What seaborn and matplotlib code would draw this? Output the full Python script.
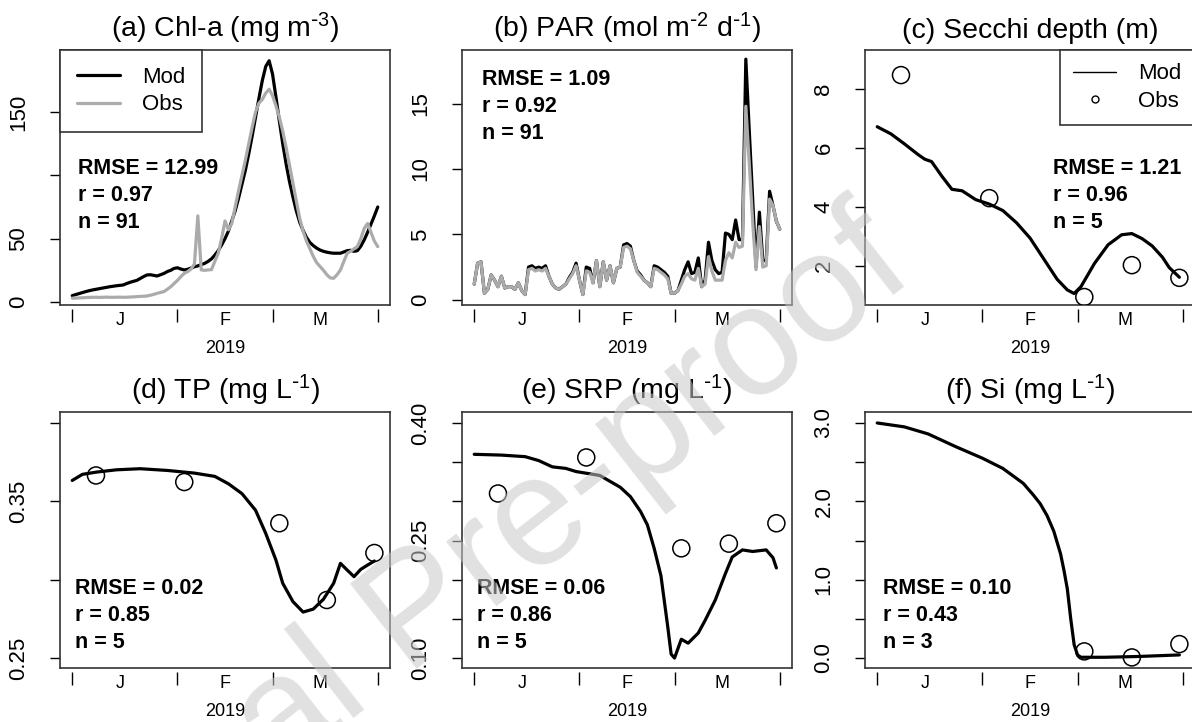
import numpy as np
import pandas as pd
import seaborn as sns
import matplotlib.pyplot as plt
import matplotlib.dates as mdates
from matplotlib.lines import Line2D

# day offsets from 1 Jan 2019
start = pd.Timestamp('2019-01-01')
days = np.arange(91)

chl_mod = [5.0, 5.8, 6.6, 7.4, 8.2, 8.9, 9.5, 10.0, 10.5, 11.0,
           11.5, 12.0, 12.4, 12.8, 13.1, 13.4, 14.5, 15.5, 16.3, 17.0,
           18.5, 20.0, 21.3, 21.5, 21.0, 20.5, 21.5, 22.5, 24.0, 25.0,
           26.5, 27.0, 26.0, 25.3, 25.8, 26.8, 27.8, 28.5, 29.5, 30.5,
           32.0, 34.0, 37.0, 40.5, 45.0, 50.0, 56.0, 64.0, 72.0, 82.0,
           93.0, 104.0, 117.0, 131.0, 146.0, 161.0, 175.0, 186.0, 190.5, 180.0,
           162.0, 143.0, 125.0, 109.0, 95.0, 83.0, 72.0, 63.0, 56.5, 51.0,
           47.0, 44.5, 42.5, 41.0, 40.0, 39.3, 38.8, 38.5, 38.5, 38.5,
           39.5, 40.5, 40.8, 40.0, 40.5, 44.0, 49.0, 55.0, 61.5, 68.0,
           75.0]
chl_obs = [3.0, 3.0, 3.2, 3.3, 3.5, 3.6, 3.7, 3.7, 3.6, 3.7,
           3.8, 3.7, 3.7, 3.7, 3.8, 3.7, 3.7, 3.9, 4.0, 4.2,
           4.4, 4.5, 4.7, 5.3, 6.0, 6.8, 7.5, 8.2, 10.0, 12.0,
           14.5, 17.0, 20.0, 22.6, 24.0, 26.0, 30.0, 68.0, 25.3, 25.0,
           25.3, 25.5, 32.0, 38.5, 50.0, 64.0, 57.0, 62.0, 75.0, 88.0,
           100.0, 112.0, 125.0, 138.0, 150.0, 157.0, 160.0, 165.0, 168.0, 163.0,
           155.0, 146.0, 135.0, 122.0, 108.0, 94.0, 80.0, 66.0, 56.0, 48.0,
           42.0, 36.0, 31.0, 28.0, 25.0, 21.5, 19.0, 18.7, 21.5, 25.3,
           32.0, 38.5, 40.0, 42.0, 43.7, 50.0, 58.0, 62.0, 55.0, 48.0,
           43.7]

par_mod = [1.2, 2.8, 2.9, 0.5, 0.8, 1.9, 1.5, 1.0, 1.8, 0.9,
           1.0, 1.0, 0.8, 1.3, 0.7, 0.4, 2.5, 2.6, 2.4, 2.5,
           2.4, 2.6, 1.8, 1.2, 0.9, 0.8, 1.0, 1.2, 1.7, 2.1,
           2.8, 1.5, 0.4, 2.5, 2.4, 1.3, 3.0, 1.0, 2.9, 1.5,
           2.6, 1.3, 2.4, 2.5, 4.2, 4.3, 4.1, 3.0, 2.2, 1.9,
           1.5, 1.3, 1.0, 2.6, 2.5, 2.3, 2.1, 1.8, 0.5, 0.5,
           0.7, 1.5, 2.3, 2.9, 2.0, 2.1, 3.2, 1.0, 1.5, 4.4,
           3.0, 2.3, 2.0, 2.1, 5.1, 5.0, 4.6, 6.1, 4.6, 4.6,
           18.4, 13.0, 7.8, 2.5, 6.7, 3.0, 3.0, 8.3, 7.2, 6.0,
           5.4]
par_obs = [1.2, 2.8, 2.9, 0.5, 0.8, 1.9, 1.5, 1.0, 1.8, 0.9,
           1.0, 1.0, 0.8, 1.3, 0.7, 0.4, 2.3, 2.4, 2.2, 2.3,
           2.2, 2.4, 1.8, 1.2, 0.9, 0.8, 1.0, 1.2, 1.6, 2.0,
           2.6, 1.5, 0.4, 2.2, 2.1, 1.3, 3.0, 1.0, 2.9, 1.5,
           2.6, 1.3, 2.4, 2.5, 4.0, 4.1, 3.9, 3.0, 2.1, 1.8,
           1.5, 1.3, 1.0, 2.4, 2.3, 2.1, 1.9, 1.6, 0.5, 0.5,
           0.7, 1.2, 1.8, 2.0, 1.6, 1.5, 2.4, 1.0, 1.2, 3.3,
           2.2, 1.5, 1.5, 1.5, 3.0, 3.6, 3.2, 4.4, 4.0, 4.1,
           14.8, 10.5, 6.0, 2.3, 5.6, 2.5, 2.6, 7.7, 7.2, 6.0,
           5.4]

secchi_days = [0, 4, 8, 12, 14, 16, 19, 22, 25, 29, 33, 37, 41, 45, 49, 53, 56, 58,
               60, 64, 68, 72, 75, 78, 81, 84, 86, 89]
secchi_mod = [6.72, 6.48, 6.14, 5.78, 5.62, 5.54, 5.05, 4.6, 4.55, 4.25, 4.1, 3.88, 3.47,
              2.95, 2.25, 1.55, 1.19, 1.07, 1.3, 2.09, 2.72, 3.06, 3.1, 2.93, 2.68, 2.3,
              1.95, 1.62]

tp_days = [0, 3, 7, 13, 20, 28, 36, 42, 46, 50, 54, 57, 60, 62, 65, 68, 71, 74, 77,
           79, 81, 83, 85, 87, 89]
tp_mod = [0.3633, 0.3672, 0.3686, 0.3701, 0.3708, 0.3697, 0.368, 0.3659, 0.3612, 0.3549,
          0.3443, 0.3295, 0.3125, 0.2977, 0.286, 0.2793, 0.2812, 0.2875, 0.2977, 0.3104,
          0.3061, 0.3019, 0.3066, 0.3093, 0.3119]

srp_days = [0, 8, 15, 19, 23, 27, 30, 37, 43, 46, 49, 51, 53, 55, 57, 58, 59, 61, 63,
            66, 68, 71, 74, 76, 79, 82, 86, 88, 89]
srp_mod = [0.360, 0.359, 0.357, 0.352, 0.344, 0.342, 0.338, 0.333, 0.318, 0.306, 0.287,
           0.270, 0.240, 0.205, 0.140, 0.105, 0.100, 0.124, 0.119, 0.132, 0.148, 0.174,
           0.208, 0.229, 0.238, 0.236, 0.238, 0.228, 0.215]

si_days = [0, 8, 15, 23, 31, 37, 43, 46, 48, 50, 52, 54, 55, 56, 57, 58, 59, 60, 63,
           67, 72, 77, 83, 89]
si_mod = [3.0, 2.95, 2.86, 2.70, 2.55, 2.42, 2.23, 2.08, 1.97, 1.82, 1.62, 1.33, 1.12,
          0.88, 0.5, 0.17, 0.04, 0.01, 0.01, 0.01, 0.015, 0.02, 0.03, 0.04]

obs_days = [7, 33, 61, 75, 89]
secchi_obs = [8.47, 4.3, 0.95, 2.03, 1.6]
tp_obs = [0.3665, 0.3623, 0.336, 0.287, 0.317]
srp_obs = [0.310, 0.356, 0.240, 0.246, 0.272]
si_obs_days = [61, 75, 89]
si_obs = [0.085, 0.008, 0.178]

titles = [r'(a) Chl-a (mg m$^{\text{-}3}$)', r'(b) PAR (mol m$^{\text{-}2}$ d$^{\text{-}1}$)',
          '(c) Secchi depth (m)', r'(d) TP (mg L$^{\text{-}1}$)',
          r'(e) SRP (mg L$^{\text{-}1}$)', r'(f) Si (mg L$^{\text{-}1}$)']
stats = [('12.99', '0.97', '91'), ('1.09', '0.92', '91'), ('1.21', '0.96', '5'),
         ('0.02', '0.85', '5'), ('0.06', '0.86', '5'), ('0.10', '0.43', '3')]
yticks = [[0, 50, 100, 150], [0, 5, 10, 15], [2, 4, 6, 8],
          [0.25, 0.30, 0.35, 0.40], [0.10, 0.15, 0.20, 0.25, 0.30, 0.35, 0.40],
          [0.0, 0.5, 1.0, 1.5, 2.0, 2.5, 3.0]]
ylabels = [['0', '50', '', '150'], ['0', '5', '10', '15'], ['2', '4', '6', '8'],
           ['0.25', '', '0.35', ''], ['0.10', '', '', '0.25', '', '', '0.40'],
           ['0.0', '', '1.0', '', '2.0', '', '3.0']]
ylims = [(-2.4, 199), (-0.4, 19.1), (0.68, 9.32), (0.2436, 0.407), (0.0873, 0.414),
         (-0.127, 3.14)]


def to_dates(d):
    return start + pd.to_timedelta(np.asarray(d, dtype=float), unit='D')


sns.set_style('white')
plt.rcParams['font.family'] = ['Liberation Sans', 'DejaVu Sans']
plt.rcParams['mathtext.default'] = 'regular'
for k in ['text.color', 'axes.labelcolor', 'xtick.color', 'ytick.color']:
    plt.rcParams[k] = 'black'

fig = plt.figure(figsize=(11.92, 7.22), dpi=100)
W, H = 1192, 722
lefts = [60, 462, 865]
boxes = [(l, 50, 305) for l in lefts] + [(l, 412, 668) for l in lefts]
axes = []
for l, t, b in boxes:
    axes.append(fig.add_axes([l / W, 1 - b / H, 330 / W, (b - t) / H]))

gray = '#ababab'
# (a), (b): daily model vs observed lines
for ax, mod, obs in [(axes[0], chl_mod, chl_obs), (axes[1], par_mod, par_obs)]:
    sns.lineplot(x=to_dates(days), y=mod, ax=ax, color='black', lw=2.3, sort=False)
    sns.lineplot(x=to_dates(days), y=obs, ax=ax, color=gray, lw=2.3, sort=False)

# (c)-(f): model line with observed points
for ax, md, mv, od, ov in [(axes[2], secchi_days, secchi_mod, obs_days, secchi_obs),
                           (axes[3], tp_days, tp_mod, obs_days, tp_obs),
                           (axes[4], srp_days, srp_mod, obs_days, srp_obs),
                           (axes[5], si_days, si_mod, si_obs_days, si_obs)]:
    sns.lineplot(x=to_dates(md), y=mv, ax=ax, color='black', lw=2.3, sort=False)
    sns.scatterplot(x=to_dates(od), y=ov, ax=ax, s=150, facecolor='none',
                    edgecolor='black', linewidth=1.1, zorder=3)

month_starts = mdates.date2num(to_dates([0, 31, 59, 90]))
mid_months = mdates.date2num(to_dates([14, 45, 73]))
xlo = start + pd.Timedelta(days=-3.6)
xhi = start + pd.Timedelta(days=93.6)
for i, ax in enumerate(axes):
    ax.set_xlim(xlo, xhi)
    ax.set_ylim(*ylims[i])
    ax.set_xticks(month_starts)
    ax.set_xticklabels([])
    ax.set_xticks(mid_months, minor=True)
    ax.set_xticklabels(['J', 'F', 'M'], minor=True)
    ax.tick_params(axis='x', which='major', bottom=True, length=9, width=1,
                   direction='out', color='black')
    ax.tick_params(axis='x', which='minor', bottom=True, length=0, pad=2, labelsize=13)
    ax.set_yticks(yticks[i])
    ax.set_yticklabels(ylabels[i])
    ax.tick_params(axis='y', length=7, width=1, direction='out', color='black',
                   labelsize=16, labelrotation=90, pad=15, left=True)
    for lab in ax.get_yticklabels():
        lab.set_va('center')
    ax.set_xlabel('2019', fontsize=13, labelpad=8)
    ax.set_ylabel('')
    ax.set_title(titles[i], fontsize=20.5, pad=9)
    ax.spines['bottom'].set_position(('outward', 3))
    ax.spines['bottom'].set_visible(False)
    ax.plot([0, 1], [0, 0], transform=ax.transAxes, color='#333333', lw=1.2, clip_on=False)
    for s in ['left', 'top', 'right']:
        ax.spines[s].set_color('#333333')
        ax.spines[s].set_linewidth(1.2)

# stats labels
stat_pos = [(0.055, 0.537), (0.061, 0.886), (0.57, 0.537),
            (0.045, 0.3125), (0.045, 0.3125), (0.055, 0.3125)]
for ax, (x, y), (rmse, r, n) in zip(axes, stat_pos, stats):
    for k, s in enumerate([f'RMSE = {rmse}', f'r = {r}', f'n = {n}']):
        ax.text(x, y - k * 0.106, s, transform=ax.transAxes, fontsize=15.5,
                fontweight='bold', va='center', ha='left')

# legends
h_a = [Line2D([], [], color='black', lw=2.3), Line2D([], [], color=gray, lw=2.3)]
leg = axes[0].legend(h_a, ['Mod', 'Obs'], loc='upper left', fontsize=16, frameon=True,
                     fancybox=False, edgecolor='#333333', framealpha=1, borderaxespad=0,
                     handlelength=1.95, handletextpad=1.0, labelspacing=0.3, borderpad=0.75)
leg.get_frame().set_linewidth(1.2)
h_c = [Line2D([], [], color='black', lw=1),
       Line2D([], [], color='black', lw=0, marker='o', markersize=5, markerfacecolor='none',
              markeredgewidth=1)]
leg = axes[2].legend(h_c, ['Mod', 'Obs'], loc='upper right', fontsize=16, frameon=True,
                     fancybox=False, edgecolor='#333333', framealpha=1, borderaxespad=0,
                     handlelength=1.95, handletextpad=1.0, labelspacing=0.3, borderpad=0.6)
leg.get_frame().set_linewidth(1.2)

# watermark
fig.text(420 / W, 1 - 615 / H, 'Journal Pre-proof', rotation=38, fontsize=112,
         color='#c8c8c8', alpha=0.55, ha='center', va='center', rotation_mode='anchor',
         zorder=10)

fig.savefig('out.png', dpi=100)
